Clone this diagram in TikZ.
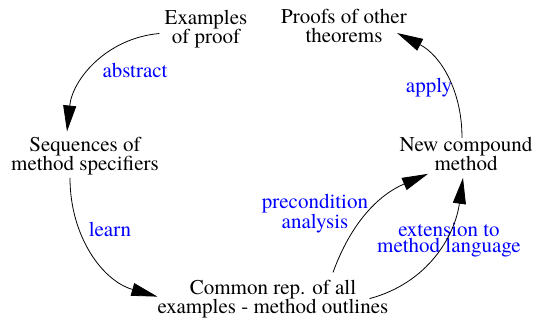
\documentclass[tikz,border=0pt]{standalone}
\usepackage{fontspec}
\setmainfont{texgyretermes}[Extension=.otf, UprightFont=*-regular, BoldFont=*-bold]
\usepackage{tikz}
\usetikzlibrary{arrows.meta}
\usepackage{xcolor}

\begin{document}
\begin{tikzpicture}[x=0.75pt,y=-0.75pt]
\tikzset{box it/.style={inner sep=0pt, align=center, font=\rmfamily\fontsize{15.75pt}{14.25pt}\selectfont}}
\tikzset{label it/.style={box it, text=blue, font=\rmfamily\fontsize{15.75pt}{12.4pt}\selectfont}}

\useasboundingbox (0,0) rectangle (536,322);

\node [box it] (v1) at (206,29.5) {Examples\\of proof};
\node [box it] (v2) at (344,25.5) {Proofs of other\\theorems};
\node [box it] (v3) at (85,155.7) {Sequences of\\method specifiers};
\node [box it] (v4) at (466,153.8) {New compound\\method};
\node [box it] (v5) at (273,299.6) {Common rep. of all\\examples - method outlines};

\node [label it] (v6) at (135,70.8) {abstract};
\node [label it] (v7) at (110,229.8) {learn};
\node [label it] (v8) at (315,213.9) {precondition\\analysis};
\node [label it] (v9) at (449,240) {extension to\\method language};
\node [label it] (v10) at (429,87.2) {apply};

\tikzstyle{myedgestyle} = [line width=0.6pt, -{Triangle[length=19.5pt,width=9.75pt]}]

\draw [myedgestyle] ([shift={(-5,4)}]v1.west) to [out=185,in=84] ([shift={(-18,-5)}]v3.north);
\draw [myedgestyle] ([shift={(-15,3)}]v3.south) to [out=270,in=164] ([shift={(0,-3)}]v5.west);
\draw [myedgestyle] ([shift={(60,-8)}]v5.north) to [out=70,in=203] ([shift={(-38,3)}]v4.south);
\draw [myedgestyle] ([shift={(-19,-1)}]v5.east) to [out=15,in=262] ([shift={(-3,7)}]v4.south);
\draw [myedgestyle] ([shift={(-4,1)}]v4.north) to [out=90,in=333] ([shift={(-10,7.5)}]v2.east);
\end{tikzpicture}
\end{document}
